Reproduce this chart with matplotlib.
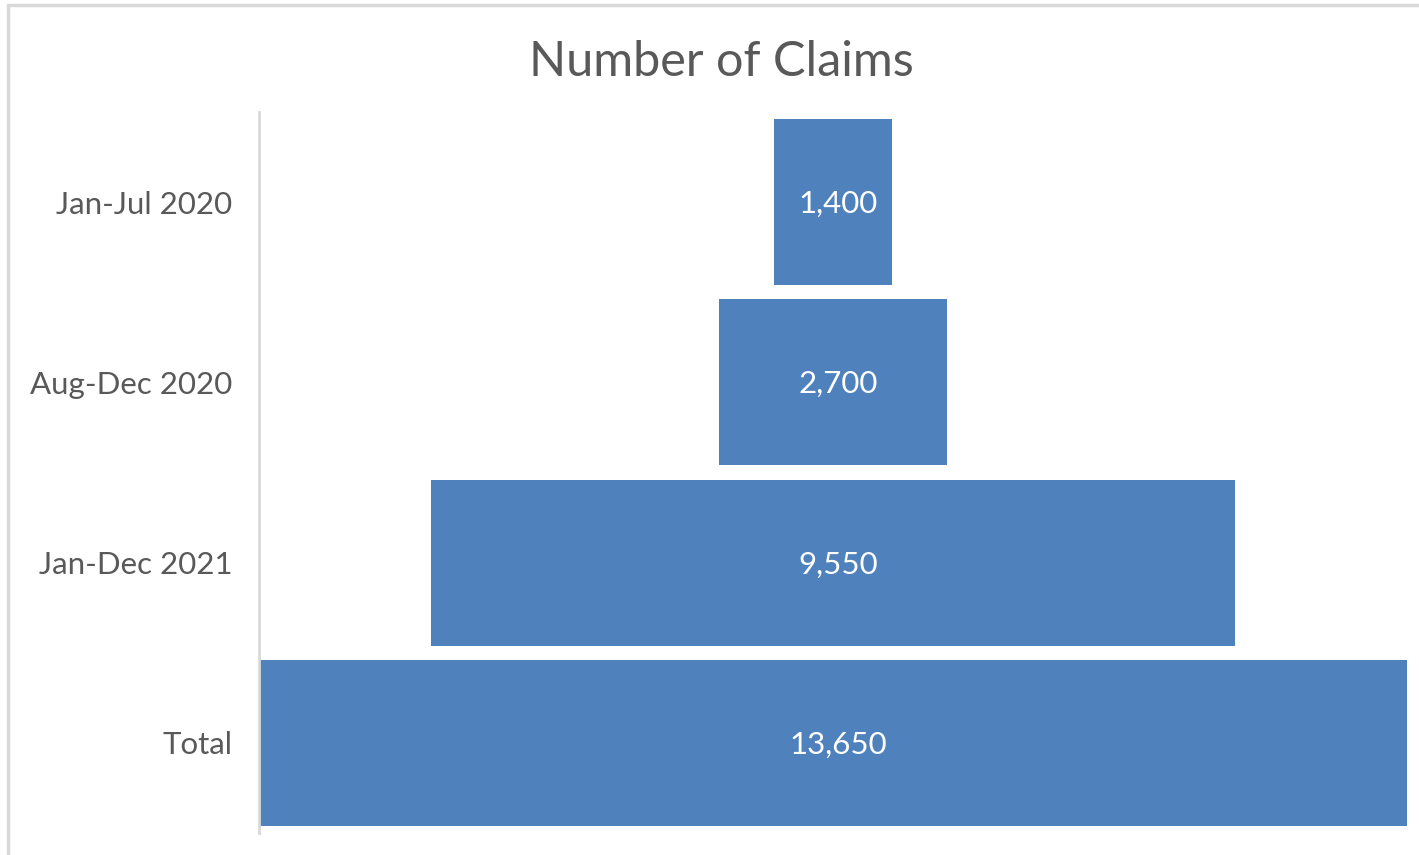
import matplotlib
matplotlib.use('Agg')
import matplotlib.pyplot as plt
from matplotlib.patches import Rectangle

plt.rcParams['font.family'] = ['Lato', 'DejaVu Sans']

categories = ['Jan-Jul 2020', 'Aug-Dec 2020', 'Jan-Dec 2021', 'Total']
claims = [1400, 2700, 9550, 13650]

bar_color = '#4F81BD'
text_color = '#595959'

fig = plt.figure(figsize=(14.19, 8.55), dpi=100)
W, H = 1419, 855
ax = fig.add_axes([259 / W, 1 - 833 / H, (1407 - 259) / W, (833 - 112) / H])

top = max(claims)
lefts = [(top - v) / 2 for v in claims]
ypos = list(range(len(categories)))
ax.barh(ypos, claims, left=lefts, height=0.92, color=bar_color)

for y, v in zip(ypos, claims):
    ax.text(top / 2 + 60, y + 0.01, f'{v:,}', ha='center', va='center',
            color='white', fontsize=22.5)

ax.set_xlim(0, top)
ax.set_ylim(len(categories) - 0.5, -0.5)
ax.set_yticks(ypos)
ax.set_yticklabels(categories, fontsize=22.5, color=text_color)
ax.tick_params(axis='y', length=0, pad=19)
ax.set_xticks([])
for s in ['top', 'right', 'bottom']:
    ax.spines[s].set_visible(False)
ax.spines['left'].set_color('#d9d9d9')
ax.spines['left'].set_linewidth(2)

fig.text(721 / W, 1 - 62 / H, 'Number of Claims', fontsize=35, color=text_color,
         ha='center', va='center')

# chart border
fig.patches.append(Rectangle((8 / W, -0.05), 1.2, 1 - 5 / H + 0.05, transform=fig.transFigure,
                             fill=False, edgecolor='#d9d9d9', linewidth=2.5))

fig.savefig('out.png', dpi=100, facecolor='white')
